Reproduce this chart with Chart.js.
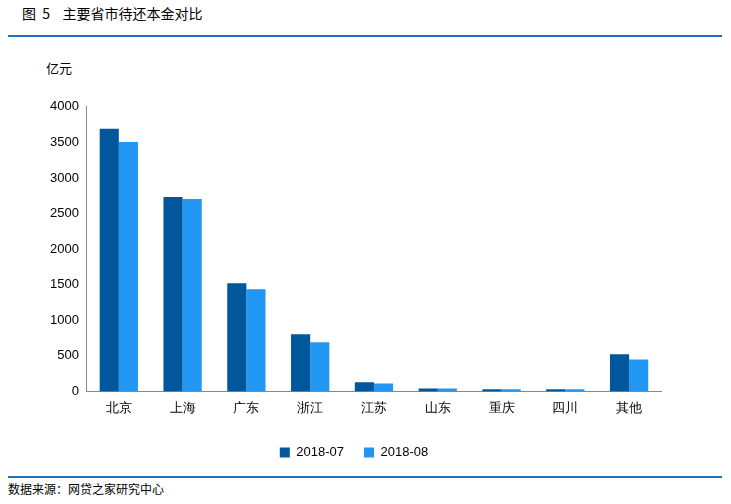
<!DOCTYPE html>
<html><head><meta charset="utf-8">
<script src="https://cdn.jsdelivr.net/npm/chart.js@4"></script>
<style>
body{margin:0;width:731px;height:504px;background:#fff;font-family:"Noto Sans CJK SC",sans-serif;position:relative;overflow:hidden}
#title{position:absolute;left:22px;top:3px;font-size:14px;color:#000}
#line1{position:absolute;left:8px;top:35px;width:714px;height:2px;background:#1f6fc4}
#unit{position:absolute;left:46px;top:58px;font-size:13px}
#line2{position:absolute;left:8px;top:476px;width:714px;height:2px;background:#1f6fc4}
#src{position:absolute;left:8px;top:480px;font-size:12px}
#wrap{position:absolute;left:0;top:96px;width:731px;height:373px}
</style></head><body>
<div id="title">图&nbsp; 5&nbsp;&nbsp;&nbsp; 主要省市待还本金对比</div>
<div id="line1"></div>
<div id="unit">亿元</div>
<div id="wrap"><canvas id="c"></canvas></div>
<div id="line2"></div>
<div id="src">数据来源：网贷之家研究中心</div>
<script>
const categories = ['北京','上海','广东','浙江','江苏','山东','重庆','四川','其他'];
const jul = [3690, 2732, 1521, 803, 130, 40, 30, 30, 521];
const aug = [3507, 2704, 1437, 690, 110, 40, 30, 30, 450];
const seriesNames = ['2018-07','2018-08'];

// push the legend a bit further below the axis
const legendGap = {
  id: 'legendGap',
  beforeInit(chart) {
    const fit = chart.legend.fit;
    chart.legend.fit = function () { fit.call(this); this.height += 7; };
  },
  afterLayout(chart) {
    chart.legend.top += 7;
    chart.legend.bottom += 7;
  }
};

new Chart(document.getElementById('c'), {
  type: 'bar',
  data: {
    labels: categories,
    datasets: [
      { label: seriesNames[0], data: jul, backgroundColor: '#01579b' },
      { label: seriesNames[1], data: aug, backgroundColor: '#2196f3' }
    ]
  },
  options: {
    responsive: true, maintainAspectRatio: false, animation: false,
    layout: { padding: { left: 47, right: 70, top: 5, bottom: 0 } },
    datasets: { bar: { categoryPercentage: 0.6, barPercentage: 1 } },
    plugins: {
      legend: { position: 'bottom', labels: { boxWidth: 10, boxHeight: 10, color: '#000', font: { size: 13 }, padding: 20 } },
      tooltip: { enabled: false }
    },
    scales: {
      x: {
        grid: { display: false, drawTicks: true, tickLength: 6, color: '#888' },
        border: { color: '#888' },
        ticks: { color: '#000', font: { size: 13 } }
      },
      y: {
        min: 0, max: 4000,
        ticks: { stepSize: 500, color: '#000', font: { size: 13 }, callback: v => String(v) },
        grid: { display: false, drawTicks: true, tickLength: 5 },
        border: { color: '#888' }
      }
    }
  },
  plugins: [legendGap]
});
</script>
</body></html>
